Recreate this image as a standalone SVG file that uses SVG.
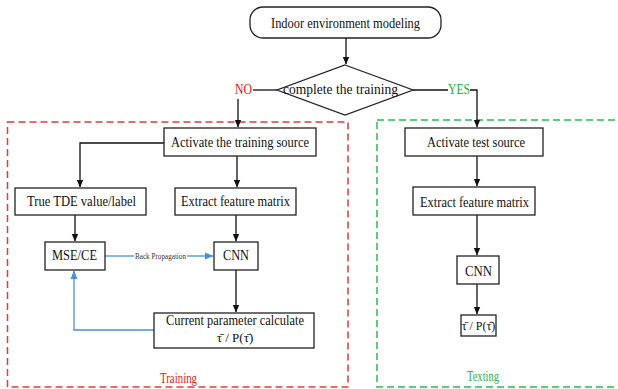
<svg xmlns="http://www.w3.org/2000/svg" width="618" height="389" viewBox="0 0 618 389">
<style>
.box{fill:#fff;stroke:#222;stroke-width:1.3}
.t{font-family:"Liberation Serif","Times New Roman",serif;font-size:15px;fill:#111;text-anchor:middle}
.s{font-family:"Liberation Serif","DejaVu Serif",serif;font-size:13px;fill:#111;text-anchor:middle}
.c{fill:none;stroke:#111;stroke-width:1.3}
.b{fill:none;stroke:#4a90d9;stroke-width:1.3}
</style>
<defs>
<marker id="ah" markerWidth="8" markerHeight="8" refX="7" refY="4" orient="auto" markerUnits="userSpaceOnUse"><path d="M0,0.8 L7.5,4 L0,7.2 Z" fill="#111"/></marker>
<marker id="bh" markerWidth="9" markerHeight="8" refX="8" refY="4" orient="auto" markerUnits="userSpaceOnUse"><path d="M0,0.5 L8.5,4 L0,7.5 Z" fill="#4a90d9"/></marker>
</defs>
<rect width="618" height="389" fill="#fff"/>
<g id="training-frame">
<rect x="7.5" y="122" width="340.5" height="265" fill="none" stroke="#e23a3a" stroke-width="1.5" stroke-dasharray="7,4"/>
<text x="178.5" y="383" textLength="37" lengthAdjust="spacingAndGlyphs" style="font-family:'Liberation Serif',serif;font-size:15px;fill:#e02525;text-anchor:middle">Training</text>
</g>
<g id="testing-frame">
<rect x="377" y="120" width="260" height="267" fill="none" stroke="#2dbb55" stroke-width="1.5" stroke-dasharray="7,4"/>
<text x="483" y="381" textLength="32" lengthAdjust="spacingAndGlyphs" style="font-family:'Liberation Serif',serif;font-size:15px;fill:#2db04f;text-anchor:middle">Texting</text>
</g>
<g id="connectors">
<path class="c" d="M346,38 V64" marker-end="url(#ah)"/>
<path class="c" d="M253,90 H277"/>
<path class="c" d="M238,99 V127" marker-end="url(#ah)"/>
<path class="c" d="M413,90 H448"/>
<path class="c" d="M470,90 H477 V127" marker-end="url(#ah)"/>
<path class="c" d="M164,143 H80 V187" marker-end="url(#ah)"/>
<path class="c" d="M237,156 V187" marker-end="url(#ah)"/>
<path class="c" d="M75,215 V241" marker-end="url(#ah)"/>
<path class="c" d="M236,215 V241" marker-end="url(#ah)"/>
<path class="c" d="M236,270 V312" marker-end="url(#ah)"/>
<path class="b" d="M105,256 H134"/>
<path class="b" d="M187,256 H213" marker-end="url(#bh)"/>
<text x="160.5" y="258.5" textLength="51" lengthAdjust="spacingAndGlyphs" style="font-family:'Liberation Serif',serif;font-size:8px;fill:#333;text-anchor:middle">Back Propagation</text>
<path class="b" d="M154,330 H74 V271" marker-end="url(#bh)"/>
<path class="c" d="M477,156 V186" marker-end="url(#ah)"/>
<path class="c" d="M477,215 V255" marker-end="url(#ah)"/>
<path class="c" d="M477,284 V314" marker-end="url(#ah)"/>
</g>
<g id="start">
<rect class="box" x="250" y="7" width="191" height="31" rx="13"/>
<text class="t" x="345.5" y="28" textLength="149" lengthAdjust="spacingAndGlyphs">Indoor environment modeling</text>
</g>
<g id="decision">
<polygon class="box" points="345,65 413,90 345,115 277,90"/>
<text class="t" x="340.5" y="94" textLength="115" lengthAdjust="spacingAndGlyphs">complete the training</text>
<text x="243.5" y="94" textLength="17" lengthAdjust="spacingAndGlyphs" style="font-family:'Liberation Serif',serif;font-size:15px;fill:#f01010;text-anchor:middle">NO</text>
<text x="459" y="94" textLength="22" lengthAdjust="spacingAndGlyphs" style="font-family:'Liberation Serif',serif;font-size:15px;fill:#1fae3c;text-anchor:middle">YES</text>
</g>
<g id="activate-training">
<rect class="box" x="164" y="128" width="152" height="28"/>
<text class="t" x="240" y="147" textLength="138" lengthAdjust="spacingAndGlyphs">Activate the training source</text>
</g>
<g id="true-tde">
<rect class="box" x="15" y="188" width="131" height="27"/>
<text class="t" x="81.5" y="206" textLength="109" lengthAdjust="spacingAndGlyphs">True TDE value/label</text>
</g>
<g id="extract-train">
<rect class="box" x="175" y="188" width="121" height="27"/>
<text class="t" x="235.5" y="206" textLength="109" lengthAdjust="spacingAndGlyphs">Extract feature matrix</text>
</g>
<g id="mse">
<rect class="box" x="45" y="242" width="60" height="28"/>
<text class="t" x="74.5" y="260" textLength="45" lengthAdjust="spacingAndGlyphs">MSE/CE</text>
</g>
<g id="cnn-train">
<rect class="box" x="214" y="242" width="44" height="28"/>
<text class="t" x="236" y="260" textLength="26" lengthAdjust="spacingAndGlyphs">CNN</text>
</g>
<g id="current">
<rect class="box" x="154" y="313" width="160" height="35"/>
<text class="t" x="235" y="325" textLength="138" lengthAdjust="spacingAndGlyphs">Current parameter calculate</text>
<text class="s" x="235" y="342">τ̄ / P(τ̄)</text>
</g>
<g id="activate-test">
<rect class="box" x="405" y="128" width="138" height="28"/>
<text class="t" x="476" y="147" textLength="98" lengthAdjust="spacingAndGlyphs">Activate test source</text>
</g>
<g id="extract-test">
<rect class="box" x="413" y="187" width="122" height="28"/>
<text class="t" x="474.5" y="207" textLength="109" lengthAdjust="spacingAndGlyphs">Extract feature matrix</text>
</g>
<g id="cnn-test">
<rect class="box" x="457" y="256" width="42" height="28"/>
<text class="t" x="478.5" y="276" textLength="27" lengthAdjust="spacingAndGlyphs">CNN</text>
</g>
<g id="output-test">
<rect class="box" x="461" y="315" width="35" height="21"/>
<text class="s" x="478.5" y="330" style="font-size:12px">τ̄ / P(τ̄)</text>
</g>
</svg>
